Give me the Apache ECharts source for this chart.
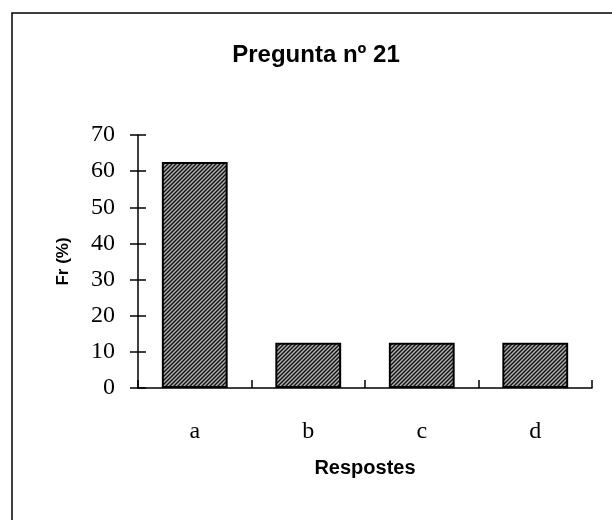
<!DOCTYPE html>
<html>
<head>
<meta charset="utf-8">
<script src="https://cdn.jsdelivr.net/npm/echarts@6/dist/echarts.min.js"></script>
<style>
  html, body { margin: 0; padding: 0; background: #fff; }
  #chart { width: 612px; height: 520px; }
</style>
</head>
<body>
<div id="chart"></div>
<script>
// dades de la pregunta 21
var categories = ['a', 'b', 'c', 'd']
var values = [62.5, 12.5, 12.5, 12.5]
var yMin = 0
var yMax = 70
var yStep = 10

// trama de les barres (ratllat diagonal fosc)
function hatch () {
  var c = document.createElement('canvas')
  c.width = 4
  c.height = 4
  var g = c.getContext('2d')
  g.fillStyle = '#b0b0b0'
  g.fillRect(0, 0, 4, 4)
  g.strokeStyle = '#111'
  g.lineWidth = 1.4
  g.beginPath()
  g.moveTo(0, 4); g.lineTo(4, 0)
  g.moveTo(-1, 1); g.lineTo(1, -1)
  g.moveTo(3, 5); g.lineTo(5, 3)
  g.stroke()
  return c
}

var serif = '"Liberation Serif", "DejaVu Serif", serif'
var sans = '"Liberation Sans", Arial, sans-serif'
var tickStyle = { color: '#000', width: 1.5 }
var gridLeft = 138
var gridRight = 20
var plotW = 612 - gridLeft - gridRight

var chart = echarts.init(document.getElementById('chart'))
chart.setOption({
  animation: false,
  title: {
    text: 'Pregunta nº 21',
    left: 311,
    top: 38,
    textAlign: 'center',
    textStyle: { fontFamily: sans, fontWeight: 'bold', fontSize: 24, color: '#000' }
  },
  graphic: [{
    type: 'rect',
    shape: { x: 12, y: 13, width: 640, height: 540 },
    style: { fill: 'none', stroke: '#000', lineWidth: 1.5 }
  }],
  grid: { left: gridLeft, right: gridRight, top: 135, bottom: 132 },
  xAxis: [{
    type: 'category',
    data: categories,
    name: 'Respostes',
    nameLocation: 'middle',
    nameGap: 70,
    nameTextStyle: { fontFamily: sans, fontWeight: 'bold', fontSize: 20, color: '#000' },
    axisLine: { lineStyle: { color: '#000', width: 1.5 } },
    axisTick: { length: 8, lineStyle: tickStyle },
    axisLabel: { margin: 32, fontFamily: serif, fontSize: 24, color: '#000' }
  }, {
    type: 'category',
    data: categories,
    position: 'bottom',
    axisLine: { show: true, lineStyle: { color: 'rgba(0,0,0,0)', width: 0 } },
    axisTick: { show: true, inside: true, length: 8, lineStyle: tickStyle },
    axisLabel: { show: false }
  }],
  yAxis: [{
    type: 'value',
    min: yMin,
    max: yMax,
    interval: yStep,
    name: 'Fr (%)',
    nameLocation: 'middle',
    nameGap: 66,
    nameTextStyle: { fontFamily: sans, fontWeight: 'bold', fontSize: 17, color: '#000' },
    axisLine: { show: true, lineStyle: { color: '#000', width: 1.5 } },
    axisTick: { show: true, length: 8, lineStyle: tickStyle },
    axisLabel: { margin: 23, fontFamily: serif, fontSize: 24, color: '#000' },
    splitLine: { show: false }
  }, {
    // marques interiors: eix dret desplaçat fins a l'esquerra
    type: 'value',
    min: yMin,
    max: yMax,
    interval: yStep,
    position: 'right',
    offset: -plotW,
    axisLine: { show: true, lineStyle: { color: 'rgba(0,0,0,0)', width: 0 } },
    axisTick: { show: true, length: 8, lineStyle: tickStyle },
    axisLabel: { show: false },
    splitLine: { show: false }
  }],
  series: [{
    type: 'bar',
    data: values,
    barCategoryGap: '42%',
    itemStyle: {
      color: { image: hatch(), repeat: 'repeat' },
      borderColor: '#000',
      borderWidth: 2
    }
  }]
})
</script>
</body>
</html>
